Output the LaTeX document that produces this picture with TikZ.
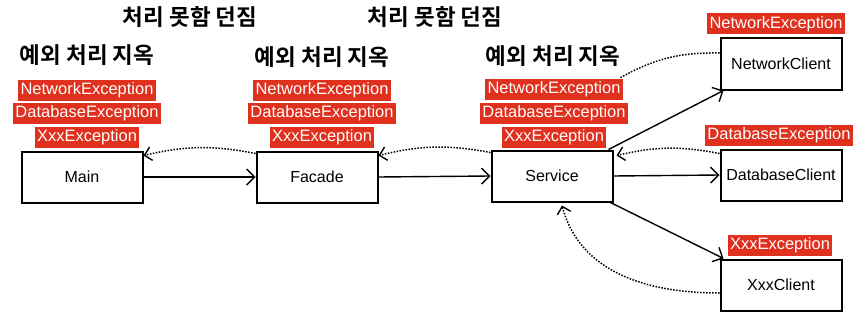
\documentclass[tikz,border=0pt]{standalone}
\usepackage{fontspec}
\setmainfont{Liberation Sans}
\newfontfamily\krfont{Noto Sans CJK KR}[BoldFont={Noto Sans CJK KR Bold}]
\usetikzlibrary{arrows.meta}
\definecolor{excred}{HTML}{E0301E}

\begin{document}
\begin{tikzpicture}[x=1pt,y=1pt,
  comp/.style={draw=black, line width=2pt, fill=white,
               minimum width=121pt, minimum height=51pt, inner sep=0pt,
               font=\fontsize{16}{19}\selectfont},
  exc/.style={fill=excred, text=white, inner sep=2.5pt, minimum height=21pt,
              font=\fontsize{16.5}{19}\selectfont},
  hdr/.style={font=\krfont\bfseries\fontsize{22.5}{26}\selectfont},
  call/.style={-{Straight Barb[length=2.8mm, line width=1.4pt]}, line width=1.4pt},
  thr/.style={-{Straight Barb[length=2.4mm, line width=1.4pt]}, line width=1.5pt,
              dash pattern=on 1.5pt off 1.5pt}]
\useasboundingbox (0,0) rectangle (854,314);
% --- headings ---
\node[hdr] (hThrowA) at (190,297) {처리 못함 던짐};
\node[hdr] (hThrowB) at (435,297) {처리 못함 던짐};
\node[hdr] (hMain) at (87,259) {예외 처리 지옥};
\node[hdr] (hFac)  at (322,257) {예외 처리 지옥};
\node[hdr] (hSvc)  at (553,258) {예외 처리 지옥};
% --- exceptions on the call chain ---
\node[exc] (mNet) at (87,224) {NetworkException};
\node[exc] (mDb)  at (87,201) {DatabaseException};
\node[exc] (mXxx) at (87,177) {XxxException};
\node[exc] (fNet) at (322,224) {NetworkException};
\node[exc] (fDb)  at (322,201) {DatabaseException};
\node[exc] (fXxx) at (322,177) {XxxException};
\node[exc] (sNet) at (554,225) {NetworkException};
\node[exc] (sDb)  at (554,201) {DatabaseException};
\node[exc] (sXxx) at (554,177) {XxxException};
% --- components ---
\node[comp] (m)  at (82,137)  {Main};
\node[comp] (f)  at (317,137) {Facade};
\node[comp] (sv) at (552,138) {Service};
\node[comp] (nc) at (781,250) {NetworkClient};
\node[comp] (dc) at (781,139) {DatabaseClient};
\node[comp] (xc) at (781,29)  {XxxClient};
% --- exceptions thrown by the clients ---
\node[exc] (cNet) at (776,290) {NetworkException};
\node[exc] (cDb)  at (779,179) {DatabaseException};
\node[exc] (cXxx) at (780,69)  {XxxException};
% --- calls ---
\draw[call] (m.east) -- (f.west);
\draw[call] (f.east) -- (sv.west);
\draw[call] ([xshift=-5pt]sv.north east) -- ([xshift=4pt]nc.south west);
\draw[call] (sv.east) -- (dc.west);
\draw[call] ([xshift=-3pt]sv.south east) -- ([xshift=4pt]xc.north west);
% --- thrown exceptions ---
\draw[thr] ([yshift=-3pt]f.north west) to[bend right=12] ([yshift=-5pt]m.north east);
\draw[thr] ([yshift=-3pt]sv.north west) to[bend right=12] ([yshift=-5pt]f.north east);
\draw[thr] ([yshift=-5pt]dc.north west) to[bend right=12] ([xshift=3pt,yshift=-6pt]sv.north east);
\draw[line width=1.5pt, dash pattern=on 1.5pt off 1.5pt] ([yshift=11pt]nc.west) to[bend right=15] ([xshift=-4pt]sNet.north east);
\draw[thr] ([yshift=-8pt]xc.west) to[out=180, in=-75] ([xshift=10pt,yshift=-3pt]sv.south);
\end{tikzpicture}
\end{document}
